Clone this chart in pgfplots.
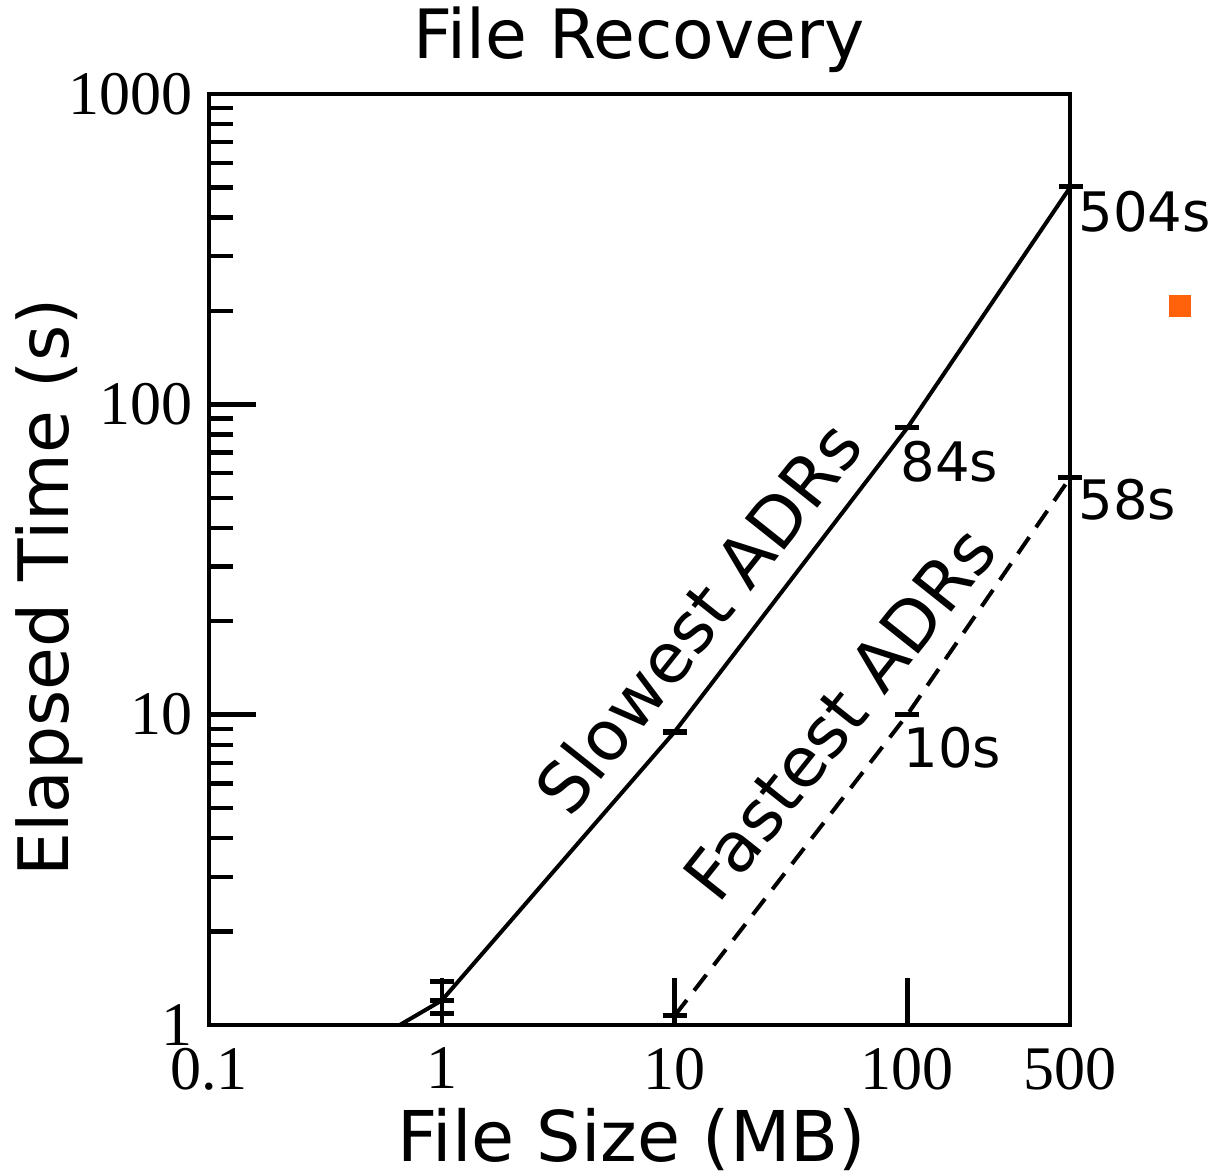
\documentclass[border=0pt]{standalone}
\usepackage{fontspec}
\setmainfont{DejaVu Sans}
\newfontfamily\tickfont{Liberation Serif}
\usepackage{pgfplots}
\pgfplotsset{compat=1.18}
\definecolor{orangeC}{RGB}{255,98,10}
\begin{document}
\begin{tikzpicture}
\useasboundingbox (-52.25bp,-37bp) rectangle (252bp,256.25bp);
\begin{axis}[
  at={(0,0)}, anchor=south west,
  scale only axis, width=215.25bp, height=232.75bp,
  xmode=log, ymode=log,
  xmin=0.1, xmax=500, ymin=1, ymax=1000,
  clip=false,
  axis line style={line width=1.2bp},
  tick pos=left, tick align=inside,
  major tick length=11.75bp, minor tick length=6bp,
  every tick/.style={line width=1.1bp, black},
  xtick={0.1,1,10,100,500}, xticklabels={0.1,1,10,100,500},
  xminorticks=false,
  ytick={1,10,100,1000}, yticklabels={1,10,100,1000},
  /pgf/number format/assume math mode=true,
  tick label style={font=\tickfont\fontsize{15.5bp}{16bp}\selectfont},
  xticklabel style={yshift=-2.2bp},
  yticklabel style={xshift=-0.5bp},
  title={File Recovery},
  title style={font=\fontsize{17bp}{20bp}\selectfont, at={(axis description cs:0.4995,1.058)}, anchor=center, yshift=-6bp},
  xlabel={File Size (MB)},
  xlabel style={font=\fontsize{17.5bp}{20bp}\selectfont, at={(axis description cs:0.491,-0.1225)}, anchor=center},
  ylabel={Elapsed Time (s)},
  ylabel style={font=\fontsize{17.4bp}{20bp}\selectfont, at={(axis description cs:-0.185,0.47)}, anchor=center, rotate=0},
]
% Slowest ADRs
\addplot[black, line width=1bp, mark=-, mark size=3bp, mark indices={2,3,4,5}, mark options={solid, line width=1.3bp}]
  coordinates {(0.66,1) (1,1.2) (10,8.8) (100,84) (504,504)};
\addplot[black, draw=none, mark=none, error bars/.cd, y dir=both, y explicit,
  error bar style={line width=1bp}, error mark options={rotate=90, mark size=3bp, line width=1.1bp}]
  coordinates {(1,1.2) += (0,0.18) -= (0,0.11)};
% Fastest ADRs
\addplot[black, line width=1bp, dash pattern=on 5bp off 3bp, mark=-, mark size=3bp, mark options={solid, line width=1.2bp}]
  coordinates {(10,1.07) (100,10) (500,58)};
% stray legend marker
\addplot[only marks, mark=square*, color=orangeC, mark size=2.5bp]
  coordinates {(1483,207)};
\node[rotate=51.5, font=\fontsize{17.3bp}{20bp}\selectfont] at (axis cs:12.6,20.6) {Slowest ADRs};
\node[rotate=51.5, font=\fontsize{17.3bp}{20bp}\selectfont] at (axis cs:51.4,10.1) {Fastest ADRs};
\node[anchor=west, inner sep=0pt, font=\fontsize{13.6bp}{15bp}\selectfont] at (axis cs:541,417) {504s};
\node[anchor=west, inner sep=0pt, font=\fontsize{13.6bp}{15bp}\selectfont] at (axis cs:92.9,65.2) {84s};
\node[anchor=west, inner sep=0pt, font=\fontsize{13.6bp}{15bp}\selectfont] at (axis cs:541,49.2) {58s};
\node[anchor=west, inner sep=0pt, font=\fontsize{13.6bp}{15bp}\selectfont] at (axis cs:95.7,7.81) {10s};
\end{axis}
\end{tikzpicture}
\end{document}
